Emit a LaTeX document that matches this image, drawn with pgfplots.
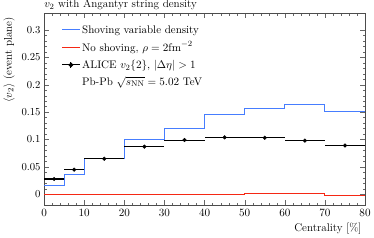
\documentclass[border=0pt]{standalone}
\usepackage{pgfplots}
\pgfplotsset{compat=1.18}
\definecolor{myblue}{RGB}{70,125,255}
\definecolor{myred}{RGB}{245,40,20}
\begin{document}
\begin{tikzpicture}
\begin{axis}[
  scale only axis, width=316pt, height=189pt,
  xmin=0, xmax=80, ymin=-0.02, ymax=0.33,
  xtick={0,10,...,80}, minor x tick num=4,
  ytick={0,0.05,...,0.3}, minor y tick num=4,
  yticklabels={0,0.05,0.1,0.15,0.2,0.25,0.3},
  tick align=inside, major tick length=5pt, minor tick length=2.5pt,
  tick style={black!60},
  axis line style={black!70},
  ticklabel style={font=\fontsize{10.5}{12}\selectfont},
  xlabel={Centrality [\%]},
  xlabel style={at={(1,0)}, anchor=north east, font=\fontsize{11}{13}\selectfont, yshift=-14pt},
  ylabel={$\langle v_2\rangle$ (event plane)},
  ylabel style={at={(ticklabel cs:1)}, anchor=south east, font=\fontsize{11}{13}\selectfont},
  legend style={draw=none, fill=none, at={(0.045,0.96)}, anchor=north west, font=\fontsize{10.8}{12.5}\selectfont, row sep=3pt},
  legend cell align=left,
  clip=false,
]
\node[anchor=base west, inner sep=0pt, font=\fontsize{11}{13}\selectfont] at (rel axis cs:0,1.028) {$v_2$ with Angantyr string density};
\addlegendimage{myblue, line width=1pt}
\addlegendentry{Shoving variable density}
\addlegendimage{myred, line width=1pt}
\addlegendentry{No shoving, $\rho = 2\mathrm{fm}^{-2}$}
\addlegendimage{black, line width=1pt, legend image code/.code={
  \draw[black, line width=1pt] (0cm,0cm) -- (0.6cm,0cm);
  \draw[black, line width=1pt] (0.3cm,-0.1cm) -- (0.3cm,0.1cm);
  \fill[black] (0.3cm,0cm) circle (1.8pt);}}
\addlegendentry{ALICE $v_2\{2\}$, $|\Delta\eta| > 1$}
\addlegendimage{empty legend}
\addlegendentry{Pb-Pb $\sqrt{s_{\mathrm{NN}}} = 5.02$ TeV}
\addplot[const plot, myblue, line width=1pt, forget plot] coordinates {
(0,0.016) (5,0.037) (10,0.066) (20,0.100) (30,0.120) (40,0.146) (50,0.157) (60,0.163) (70,0.151) (80,0.151)};
\addplot[const plot, myred, line width=1pt, forget plot] coordinates {
(0,0.0) (5,0.0) (10,0.0) (20,0.0) (30,0.0) (40,-0.001) (50,0.001) (60,0.001) (70,-0.002) (80,-0.002)};
\addplot[black, only marks, mark=*, mark size=1.8pt, forget plot,
  error bars/.cd, x dir=both, x explicit, y dir=both, y explicit, error mark=none,
  error bar style={black, line width=1pt}]
  coordinates {
(2.5,0.028) +- (2.5,0.001)
(7.5,0.045) +- (2.5,0.001)
(15,0.065) +- (5,0.001)
(25,0.087) +- (5,0.001)
(35,0.099) +- (5,0.001)
(45,0.104) +- (5,0.001)
(55,0.103) +- (5,0.001)
(65,0.098) +- (5,0.001)
(75,0.089) +- (5,0.001)};
\end{axis}
\end{tikzpicture}
\end{document}
